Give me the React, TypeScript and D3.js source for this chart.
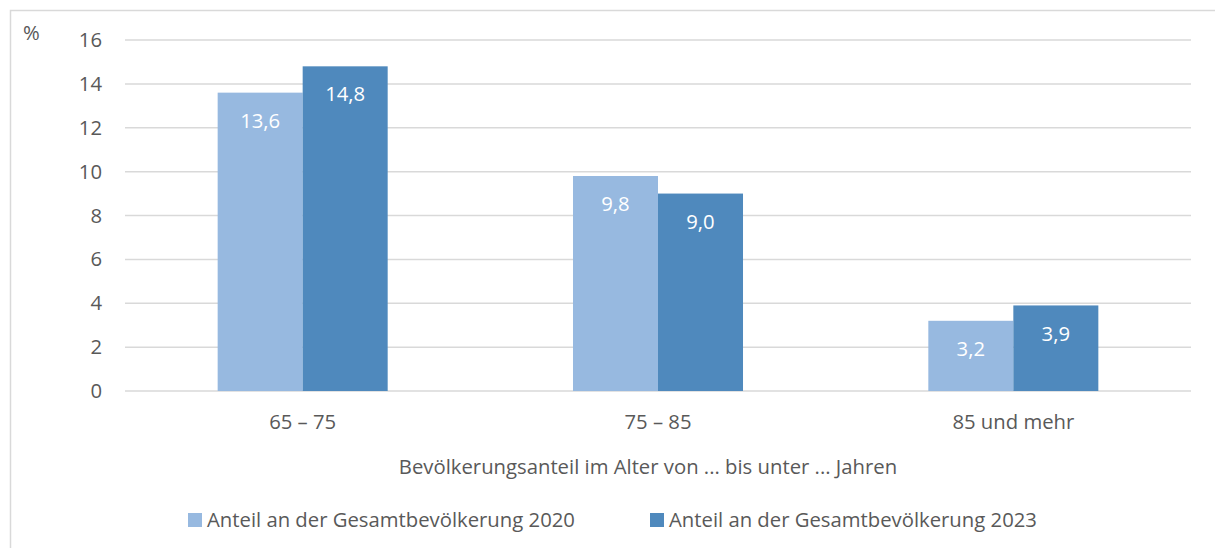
import React, { useEffect, useRef } from 'react';
import * as d3 from 'd3';

const categories = ['65 – 75', '75 – 85', '85 und mehr'];
const seriesNames = ['Anteil an der Gesamtbevölkerung 2020', 'Anteil an der Gesamtbevölkerung 2023'];
const values2020 = [13.6, 9.8, 3.2];
const values2023 = [14.8, 9.0, 3.9];
const yTicks = [0, 2, 4, 6, 8, 10, 12, 14, 16];
const colors = ['#97B9E0', '#4F89BD'];

const W = 1215;
const H = 548;
const FONT = "'Open Sans', 'Noto Sans', sans-serif";
const FS = '20.3px';

const App = () => {
  const ref = useRef<SVGSVGElement>(null);

  useEffect(() => {
    if (!ref.current) return;
    const svg = d3.select(ref.current);
    svg.selectAll('*').remove();

    const plot = { left: 125, right: 1191, top: 40, bottom: 391 };

    // chart frame
    svg.append('rect')
      .attr('x', 10.5).attr('y', 10.5)
      .attr('width', W + 10).attr('height', H + 10)
      .attr('fill', 'white').attr('stroke', '#D9D9D9').attr('stroke-width', 1.5);

    const x0 = d3.scaleBand<string>().domain(categories).range([plot.left, plot.right]).padding(0);
    const x1 = d3.scaleBand<string>().domain(seriesNames).range([0, x0.bandwidth()])
      .paddingInner(0).paddingOuter(1.09);
    const y = d3.scaleLinear().domain([0, 16]).range([plot.bottom, plot.top]);

    // gridlines
    svg.append('g').selectAll('line').data(yTicks).enter().append('line')
      .attr('x1', plot.left).attr('x2', plot.right)
      .attr('y1', d => y(d)).attr('y2', d => y(d))
      .attr('stroke', '#D9D9D9').attr('stroke-width', 1.5);

    // y tick labels
    svg.append('g').selectAll('text').data(yTicks).enter().append('text')
      .attr('x', 102).attr('y', d => y(d)).attr('dy', '0.35em')
      .attr('text-anchor', 'end')
      .style('font-family', FONT).style('font-size', FS).style('fill', '#595959')
      .text(d => d);

    svg.append('text')
      .attr('x', 23).attr('y', 33).attr('dy', '0.35em')
      .style('font-family', FONT).style('font-size', FS).style('fill', '#595959')
      .text('%');

    const data = categories.map((c, i) => ({ cat: c, vals: [values2020[i], values2023[i]] }));
    const groups = svg.append('g').selectAll('g').data(data).enter().append('g')
      .attr('transform', d => `translate(${x0(d.cat)},0)`);

    const bars = groups.selectAll('g').data(d => d.vals.map((v, j) => ({ s: seriesNames[j], v, j })))
      .enter().append('g');

    bars.append('rect')
      .attr('x', d => x1(d.s)!)
      .attr('y', d => y(d.v))
      .attr('width', x1.bandwidth())
      .attr('height', d => y(0) - y(d.v))
      .attr('fill', d => colors[d.j]);

    bars.append('text')
      .attr('x', d => x1(d.s)! + x1.bandwidth() / 2)
      .attr('y', d => y(d.v) + 28).attr('dy', '0.35em')
      .attr('text-anchor', 'middle')
      .style('font-family', FONT).style('font-size', FS).style('fill', 'white')
      .text(d => d.v.toFixed(1).replace('.', ','));

    // category labels
    svg.append('g').selectAll('text').data(categories).enter().append('text')
      .attr('x', d => x0(d)! + x0.bandwidth() / 2).attr('y', 422).attr('dy', '0.35em')
      .attr('text-anchor', 'middle')
      .style('font-family', FONT).style('font-size', FS).style('fill', '#595959')
      .text(d => d);

    svg.append('text')
      .attr('x', 648).attr('y', 467).attr('dy', '0.35em')
      .attr('text-anchor', 'middle')
      .style('font-family', FONT).style('font-size', FS).style('fill', '#595959')
      .text('Bevölkerungsanteil im Alter von ... bis unter ... Jahren');

    // legend
    const legendX = [188, 650];
    const legend = svg.append('g').selectAll('g').data(seriesNames).enter().append('g')
      .attr('transform', (d, i) => `translate(${legendX[i]},520)`);
    legend.append('rect')
      .attr('x', 0).attr('y', -7).attr('width', 14).attr('height', 14)
      .attr('fill', (d, i) => colors[i]);
    legend.append('text')
      .attr('x', 19).attr('y', 0).attr('dy', '0.35em')
      .style('font-family', FONT).style('font-size', FS).style('fill', '#595959')
      .text(d => d);
  }, []);

  return (
    <svg ref={ref} width={W} height={H}
      style={{ position: 'absolute', left: 0, top: 0, display: 'block', background: 'white' }} />
  );
};

export default App;
